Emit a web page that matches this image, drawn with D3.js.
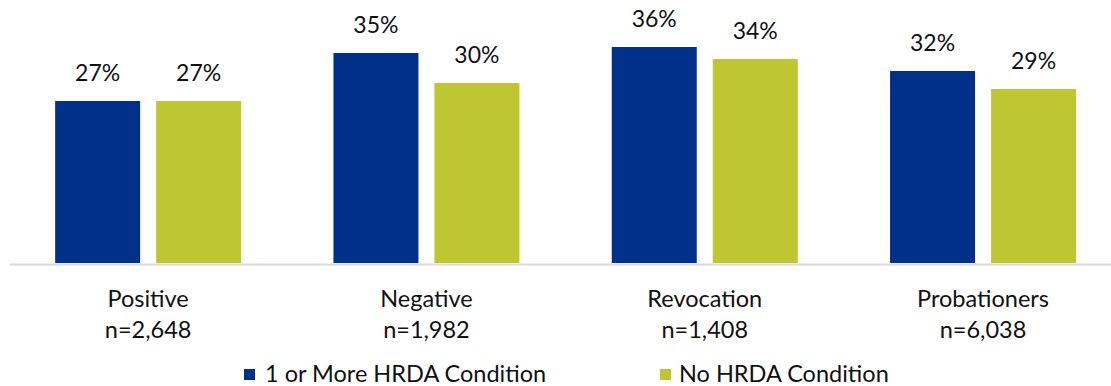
<!DOCTYPE html>
<html>
<head>
<meta charset="utf-8">
<script src="https://cdn.jsdelivr.net/npm/d3@7"></script>
<style>
  html, body { margin: 0; padding: 0; background: #fff; }
  svg { display: block; font-family: Lato, "Open Sans", sans-serif; }
</style>
</head>
<body>
<svg id="chart" width="1111" height="386"></svg>
<script>
// Share of people by outcome group, split by HRDA condition status
const categories = ["Positive", "Negative", "Revocation", "Probationers"];
const sampleSizes = ["n=2,648", "n=1,982", "n=1,408", "n=6,038"];
const seriesNames = ["1 or More HRDA Condition", "No HRDA Condition"];
const withCondition = [27, 35, 36, 32];
const noCondition = [27, 30, 34, 29];
const seriesColors = ["#003087", "#bec632"];

const svg = d3.select("#chart");
const textColor = "#111";

// Scales
const x0 = d3.scaleBand()
  .domain(categories)
  .range([9, 1122.2])
  .paddingInner(0.3317)
  .paddingOuter(0.1658);

const x1 = d3.scaleBand()
  .domain(seriesNames)
  .range([0, x0.bandwidth()])
  .paddingInner(16 / 101)
  .paddingOuter(0);

const y = d3.scaleLinear().domain([0, 40]).range([263, 23]);

const rows = categories.map((c, i) => ({
  category: c,
  n: sampleSizes[i],
  values: [withCondition[i], noCondition[i]].map((v, j) => ({ series: seriesNames[j], value: v, color: seriesColors[j] }))
}));

// Bars
const groups = svg.append("g").selectAll("g")
  .data(rows)
  .join("g")
  .attr("transform", d => `translate(${x0(d.category)},0)`);

groups.selectAll("rect")
  .data(d => d.values)
  .join("rect")
  .attr("x", d => x1(d.series))
  .attr("y", d => y(d.value))
  .attr("width", x1.bandwidth())
  .attr("height", d => y(0) - y(d.value))
  .attr("fill", d => d.color);

// Value labels
groups.selectAll("text.val")
  .data(d => d.values)
  .join("text")
  .attr("class", "val")
  .attr("x", d => x1(d.series) + x1.bandwidth() / 2)
  .attr("y", d => y(d.value) - 20)
  .attr("text-anchor", "middle")
  .attr("font-size", 23)
  .attr("fill", textColor)
  .text(d => d.value + "%");

// Category axis (baseline only)
const axis = svg.append("g")
  .attr("transform", `translate(0,${y(0) + 1})`)
  .call(d3.axisBottom(x0).tickSize(0).tickSizeOuter(0).tickFormat(""));
axis.select(".domain").attr("stroke", "#d9d9d9").attr("stroke-width", 2);

// Two-line category labels
const catLabels = svg.append("g").selectAll("text")
  .data(rows)
  .join("text")
  .attr("text-anchor", "middle")
  .attr("font-size", 23.5)
  .attr("fill", textColor);
catLabels.append("tspan")
  .attr("x", d => x0(d.category) + x0.bandwidth() / 2)
  .attr("y", 307)
  .text(d => d.category);
catLabels.append("tspan")
  .attr("x", d => x0(d.category) + x0.bandwidth() / 2)
  .attr("y", 338)
  .text(d => d.n);

// Legend
const legendX = [244, 660];
const legend = svg.append("g").selectAll("g")
  .data(seriesNames)
  .join("g")
  .attr("transform", (d, i) => `translate(${legendX[i]},0)`);
legend.append("rect")
  .attr("x", 0)
  .attr("y", 369)
  .attr("width", 11)
  .attr("height", 11)
  .attr("fill", (d, i) => seriesColors[i]);
legend.append("text")
  .attr("x", (d, i) => i === 0 ? 21 : 19)
  .attr("y", 382)
  .attr("font-size", 23.5)
  .attr("fill", textColor)
  .text(d => d);
</script>
</body>
</html>
